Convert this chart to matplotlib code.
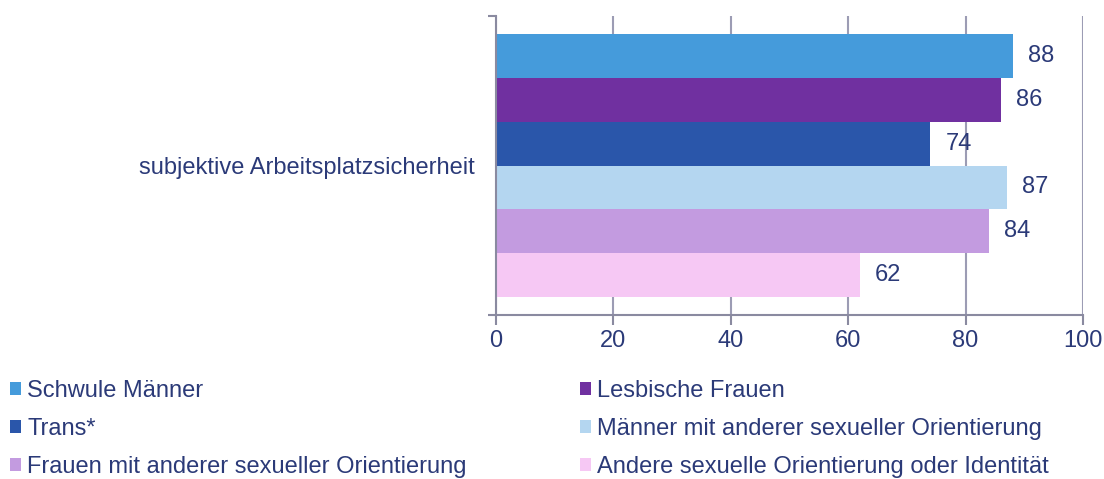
import matplotlib
matplotlib.use("Agg")
import matplotlib.pyplot as plt
from matplotlib.patches import Patch

category = "subjektive Arbeitsplatzsicherheit"
series = ["Schwule Männer", "Lesbische Frauen", "Trans*",
          "Männer mit anderer sexueller Orientierung",
          "Frauen mit anderer sexueller Orientierung",
          "Andere sexuelle Orientierung oder Identität"]
values = [88, 86, 74, 87, 84, 62]
colors = ["#459BDB", "#7030A0", "#2A56AA", "#B4D6F0", "#C39BE0", "#F6C8F4"]
xticks = [0, 20, 40, 60, 80, 100]

txt = "#2B3A78"
axc = "#8A8AA0"
fs = 17
plt.rcParams['font.family'] = ['Liberation Sans', 'DejaVu Sans']

fig = plt.figure(figsize=(11.04, 4.79), dpi=100)
ax = fig.add_axes([496/1104, 1-315/479, (1083-496)/1104, (315-16)/479])

n = len(values)
h = 0.88 / n
top = 0.44
for i, (v, c) in enumerate(zip(values, colors)):
    y = top - h * (i + 0.5)
    ax.barh(y, v, height=h, color=c, zorder=3)
    ax.text(v + 2.6, y, str(v), va="center", ha="left", fontsize=fs, color=txt, zorder=4)

ax.set_xlim(0, 100)
ax.set_ylim(-0.5, 0.5)
ax.set_xticks(xticks)
ax.set_xticklabels([str(t) for t in xticks])
ax.set_yticks([0])
ax.set_yticklabels([category])
ax.set_yticks([-0.5, 0.5], minor=True)
ax.tick_params(axis="y", which="major", length=0, pad=15, labelsize=fs, labelcolor=txt)
ax.tick_params(axis="y", which="minor", length=6, width=1.5, color=axc)
ax.tick_params(axis="x", length=7, width=1.5, color=axc, labelsize=fs, labelcolor=txt, pad=4)
ax.grid(axis="x", color="#9C9CB4", linewidth=1.5, zorder=0)
for s in ["top", "right"]:
    ax.spines[s].set_visible(False)
for s in ["left", "bottom"]:
    ax.spines[s].set_color(axc)
    ax.spines[s].set_linewidth(1.5)
    ax.spines[s].set_zorder(5)

handles = [Patch(facecolor=c, label=l) for c, l in zip(colors, series)]
cols = [handles[0::2], handles[1::2]]
anchors = [10/1104, 580/1104]
for hs, xa in zip(cols, anchors):
    leg = fig.legend(handles=hs, loc="upper left", bbox_to_anchor=(xa, 1 - 380/479),
                     ncol=1, frameon=False, fontsize=fs, handlelength=0.47, handleheight=0.47,
                     handletextpad=0.25, labelspacing=0.68,
                     borderaxespad=0, borderpad=0)
    for t in leg.get_texts():
        t.set_color(txt)

fig.savefig("out.png", dpi=100)
